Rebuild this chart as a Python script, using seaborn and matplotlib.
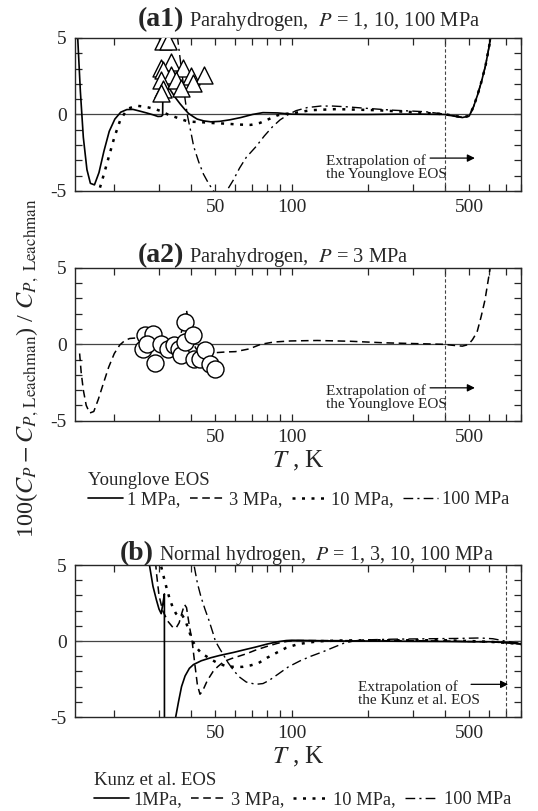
import numpy as np
import pandas as pd
import matplotlib
matplotlib.use("Agg")
import matplotlib.pyplot as plt
from matplotlib.ticker import FixedLocator, FuncFormatter
import seaborn as sns

# --- (a1) Parahydrogen, Younglove EOS, 1 / 10 / 100 MPa ---
a1_T_1mpa = [14.0, 14.3, 14.7, 15.1, 15.6, 16.1, 16.7, 17.4, 18.2, 19.1, 20.1, 21.2, 22.4, 23.7,
             25.2, 26.8, 28.4, 29.7, 30.6, 31.0, 31.1, 32.0, 33.4, 34.8, 36.3, 37.8, 39.2, 41.0,
             42.4, 45.0, 48.0, 52.0, 57.0, 63.0, 70.0, 77.0, 88.0, 100, 120, 150, 200, 260, 330,
             400, 440, 470, 500, 520, 540, 560, 580, 600, 620]
a1_y_1mpa = [9.0, 5.5, 1.5, -1.5, -3.6, -4.5, -4.6, -3.8, -2.4, -1.1, -0.3, 0.15, 0.32, 0.33,
             0.22, 0.1, -0.02, -0.13, -0.12, -0.05, 2.3, 2.0, 1.55, 1.1, 0.7, 0.35, 0.07, -0.15,
             -0.3, -0.42, -0.48, -0.45, -0.35, -0.2, 0.0, 0.12, 0.1, 0.02, 0.0, 0.0, 0.0, 0.02, 0.02,
             0.0, -0.12, -0.2, -0.1, 0.5, 1.3, 2.2, 3.2, 4.5, 5.8]

a1_T_10mpa = [17.0, 17.4, 18.2, 19.0, 20.0, 21.1, 22.0, 22.8, 24.5, 26.0, 27.2, 29.0, 30.5, 32.5,
              34.5, 36.5, 38.9, 41.0, 43.7, 48.9, 55.0, 62.0, 69.0, 75.0, 80.0, 88.0, 96.0, 100,
              119, 150, 215, 300, 400, 440, 470, 500, 520, 540, 560, 580, 600, 620]
a1_y_10mpa = [-6.0, -5.0, -3.9, -2.8, -1.5, -0.37, 0.1, 0.4, 0.57, 0.52, 0.46, 0.35, 0.22, 0.0,
              -0.15, -0.3, -0.45, -0.48, -0.5, -0.56, -0.6, -0.66, -0.68, -0.55, -0.35, -0.05, 0.05,
              0.07, 0.28, 0.35, 0.28, 0.15, 0.02, -0.1, -0.18, -0.1, 0.5, 1.3, 2.2, 3.2, 4.5, 5.8]

a1_T_100mpa = [34.8, 35.5, 36.3, 37.2, 38.0, 38.8, 40.0, 41.1, 43.0, 44.9, 47.0, 49.2, 51.5, 53.5,
               55.4, 58.8, 62.3, 66.2, 72.3, 78.0, 84.0, 90.0, 97.0, 104, 115, 130, 145, 165, 190,
               250, 336, 400, 440, 470, 500, 520, 540, 560, 580, 600, 620]
a1_y_100mpa = [6.5, 5.0, 3.7, 2.3, 1.0, -0.05, -1.1, -2.1, -3.1, -3.9, -4.5, -5.0, -5.3, -5.2,
               -5.0, -4.3, -3.5, -2.8, -2.1, -1.4, -0.8, -0.35, 0.0, 0.25, 0.45, 0.55, 0.55, 0.5,
               0.42, 0.28, 0.18, 0.02, -0.1, -0.18, -0.1, 0.5, 1.3, 2.2, 3.2, 4.5, 5.8]

# experimental points (triangles)
a1_T_exp = [31.2, 32.6, 33.5, 30.6, 31.0, 37.2, 33.5, 40.1, 45.1, 30.6, 35.0, 40.7, 31.2, 36.7, 30.6]
a1_y_exp = [4.77, 4.77, 3.46, 3.05, 2.9, 3.05, 2.6, 2.53, 2.6, 2.27, 2.27, 2.05, 1.66, 1.72, 1.4]

# --- (a2) Parahydrogen, Younglove EOS, 3 MPa ---
a2_T_3mpa = [14.6, 14.8, 15.1, 15.5, 16.0, 16.6, 17.3, 18.0, 19.0, 20.0, 21.0, 22.0, 23.0, 24.5,
             26.0, 28.0, 30.0, 32.0, 34.0, 36.0, 37.5, 38.5, 39.3, 40.5, 42.0, 44.0, 46.0, 50.0,
             55.0, 60.0, 68.0, 75.5, 85.0, 99.0, 126, 170, 230, 300, 396, 440, 470, 496, 515,
             537, 557, 577, 605, 625]
a2_y_3mpa = [-0.6, -1.8, -3.0, -4.0, -4.5, -4.4, -3.6, -2.7, -1.5, -0.6, -0.05, 0.25, 0.38, 0.42,
             0.3, 0.15, 0.0, -0.1, 0.0, 0.4, 1.2, 2.25, 1.2, 0.2, -0.3, -0.5, -0.55, -0.55,
             -0.5, -0.48, -0.3, 0.0, 0.15, 0.22, 0.25, 0.2, 0.1, 0.05, 0.0, -0.08, -0.12, -0.02, 0.3,
             0.8, 1.8, 2.9, 5.0, 6.5]

# experimental points (circles)
a2_T_exp = [26.3, 28.4, 26.0, 27.0, 30.6, 28.8, 32.5, 34.5, 36.0, 36.5, 38.1, 38.1, 40.9, 41.2,
            43.7, 45.6, 47.6, 50.0]
a2_y_exp = [0.6, 0.7, -0.29, 0.0, 0.04, -1.23, -0.29, -0.07, -0.29, -0.73, 1.48, 0.15, 0.6, -0.95,
            -0.95, -0.35, -1.28, -1.6]

# --- (b) Normal hydrogen, Kunz et al. EOS, 1 / 3 / 10 / 100 MPa ---
b_T_1mpa = [26.5, 27.5, 28.4, 29.3, 30.0, 30.6, 31.1, 31.5, 31.52, 34.5, 34.9, 35.8, 36.8, 38.0,
            39.5, 41.0, 44.0, 48.0, 52.0, 59.0, 66.0, 72.0, 80.0, 88.0, 95.0, 100, 120, 150, 200,
            300, 400, 500, 600, 700, 800]
b_y_1mpa = [7.0, 5.0, 3.6, 2.7, 2.1, 1.8, 2.5, 3.1, -8.0, -8.0, -5.0, -4.0, -3.0, -2.3,
            -1.8, -1.55, -1.3, -1.1, -0.95, -0.75, -0.55, -0.4, -0.2, -0.05, 0.03, 0.05, 0.03, 0.0,
            0.0, -0.02, -0.03, -0.05, -0.05, -0.1, -0.2]

b_T_3mpa = [28.8, 29.3, 30.0, 31.0, 32.5, 34.0, 35.0, 36.0, 37.0, 37.8, 38.5, 39.5, 40.5, 41.5,
            42.5, 43.5, 44.5, 46.5, 49.0, 51.0, 54.0, 58.0, 66.0, 72.0, 80.0, 88.0, 96.0, 106,
            130, 200, 300, 400, 500, 600, 700, 800]
b_y_3mpa = [6.0, 4.5, 3.0, 2.0, 1.3, 0.9, 0.85, 1.2, 1.9, 2.4, 2.2, 1.0, 0.0, -1.5,
            -2.9, -3.5, -3.3, -2.6, -2.0, -1.7, -1.35, -1.15, -0.85, -0.6, -0.35, -0.15, -0.02, 0.03,
            0.03, 0.02, 0.02, 0.0, -0.03, -0.05, -0.12, -0.2]

b_T_10mpa = [30.0, 31.0, 32.0, 33.0, 34.0, 35.0, 36.0, 37.0, 38.0, 39.5, 40.7, 42.0, 44.0, 46.0,
             48.0, 51.0, 55.0, 59.0, 64.0, 69.0, 74.0, 80.0, 88.8, 95.0, 106, 127, 150, 200, 300,
             400, 500, 600, 700, 800]
b_y_10mpa = [5.5, 4.5, 3.6, 2.8, 2.2, 1.8, 1.6, 1.7, 1.4, 0.6, 0.0, -0.4, -0.8, -1.0,
             -1.2, -1.45, -1.65, -1.7, -1.7, -1.6, -1.45, -1.1, -0.7, -0.45, -0.2, -0.02, 0.03,
             0.05, 0.05, 0.05, 0.0, -0.05, -0.12, -0.2]

b_T_100mpa = [40.0, 41.2, 42.5, 43.9, 45.5, 47.1, 49.0, 50.0, 52.0, 54.0, 56.0, 58.8, 62.0, 66.2,
              72.2, 77.0, 81.3, 88.0, 97.0, 108, 119, 133, 147, 160, 175, 190, 250, 350, 450,
              550, 620, 700, 800]
b_y_100mpa = [6.2, 5.0, 3.8, 2.9, 2.1, 1.4, 0.5, 0.0, -0.5, -0.95, -1.4, -1.9, -2.35, -2.7,
              -2.85, -2.8, -2.6, -2.2, -1.7, -1.3, -1.0, -0.7, -0.4, -0.15, 0.0, 0.07, 0.12, 0.15,
              0.17, 0.2, 0.15, -0.02, -0.15]

# line styles per pressure
styles = {
    "1": dict(linestyle="-", lw=1.2),
    "3": dict(linestyle=(0, (5, 3)), lw=1.1),
    "10": dict(linestyle=(0, (1.2, 2.6)), lw=1.8),
    "100": dict(linestyle=(0, (7, 3, 1.5, 3)), lw=1.0),
}

sns.set_style("ticks")
plt.rcParams["font.family"] = ["Liberation Serif", "DejaVu Serif"]
plt.rcParams["mathtext.fontset"] = "stix"
plt.rcParams["axes.unicode_minus"] = False

fig = plt.figure(figsize=(5.38, 8.11), dpi=100)
L, W = 0.1394, 0.829
ax1 = fig.add_axes([L, 0.7645, W, 0.1887])
ax2 = fig.add_axes([L, 0.4813, W, 0.1883])
ax3 = fig.add_axes([L, 0.1159, W, 0.1874])


def draw(ax, T, y, p):
    sns.lineplot(x=T, y=y, ax=ax, color="k", sort=False, estimator=None, **styles[p])
    return ax.lines[-1]


def style_axes(ax, vline):
    ax.set_xscale("log")
    ax.set_xlim(14, 800)
    ax.set_ylim(-5, 5)
    ax.axhline(0, color="#444444", lw=0.9, zorder=1)
    ax.axvline(vline, color="#444444", lw=0.8, linestyle=(0, (3, 2)), zorder=1)
    ax.xaxis.set_major_locator(FixedLocator([50, 100, 500]))
    ax.xaxis.set_minor_locator(FixedLocator([20, 30, 40, 60, 70, 80, 90, 200, 300, 400, 600, 700, 800]))
    ax.xaxis.set_major_formatter(FuncFormatter(lambda v, _: f"{v:g}"))
    ax.yaxis.set_major_locator(FixedLocator([-5, 0, 5]))
    ax.yaxis.set_minor_locator(FixedLocator([-4, -3, -2, -1, 1, 2, 3, 4]))
    ax.yaxis.set_major_formatter(FuncFormatter(lambda v, _: f"{v:g}"))
    ax.tick_params(which="both", direction="in", top=True, right=True, length=5, width=0.9,
                   labelsize=14, pad=6)
    for s in ax.spines.values():
        s.set_linewidth(1.0)
    ax.set_xlabel("")
    ax.set_ylabel("")


# (a1)
l1 = draw(ax1, a1_T_1mpa, a1_y_1mpa, "1")
l10 = draw(ax1, a1_T_10mpa, a1_y_10mpa, "10")
l100 = draw(ax1, a1_T_100mpa, a1_y_100mpa, "100")
sns.scatterplot(x=a1_T_exp, y=a1_y_exp, ax=ax1, marker="^", s=150, color="white",
                edgecolor="k", linewidth=1.0, zorder=5)
style_axes(ax1, 400)

# (a2)
l3 = draw(ax2, a2_T_3mpa, a2_y_3mpa, "3")
sns.scatterplot(x=a2_T_exp, y=a2_y_exp, ax=ax2, marker="o", s=150, color="white",
                edgecolor="k", linewidth=1.0, zorder=5)
style_axes(ax2, 400)
ax2.set_xlabel("$T$ , K", fontsize=18, labelpad=2)

# (b)
k1 = draw(ax3, b_T_1mpa, b_y_1mpa, "1")
k3 = draw(ax3, b_T_3mpa, b_y_3mpa, "3")
k10 = draw(ax3, b_T_10mpa, b_y_10mpa, "10")
k100 = draw(ax3, b_T_100mpa, b_y_100mpa, "100")
style_axes(ax3, 700)
ax3.set_xlabel("$T$ , K", fontsize=18, labelpad=2)

# extrapolation notes
for ax, tx, x0, x1, name in [(ax1, 136, 342, 540, "the Younglove EOS"),
                             (ax2, 136, 342, 540, "the Younglove EOS"),
                             (ax3, 182, 496, 730, "the Kunz et al. EOS")]:
    ax.text(tx, -2.6, "Extrapolation of\n" + name, ha="left", va="top", fontsize=11,
            color="#222222", linespacing=1.0)
    ax.annotate("", xy=(x1, -2.85), xytext=(x0, -2.85),
                arrowprops=dict(arrowstyle="-|>", color="k", lw=0.9, mutation_scale=11))

# panel titles
for xs, yb, tag, rest, fs in [(0.342, 0.968, "(a1)", " Parahydrogen,  $P$ = 1, 10, 100 MPa", 14.8),
                              (0.342, 0.677, "(a2)", " Parahydrogen,  $P$ = 3 MPa", 14.8),
                              (0.286, 0.3095, "(b)", " Normal hydrogen,  $P$ = 1, 3, 10, 100 MPa", 14.4)]:
    fig.text(xs, yb, tag, ha="right", va="baseline", fontsize=20, fontweight="bold")
    fig.text(xs, yb, rest, ha="left", va="baseline", fontsize=fs)

# y label
fig.text(0.052, 0.546,
         r"100($C_P - C_{P,\,\mathrm{Leachman}}$) / $C_{P,\ \mathrm{Leachman}}$",
         rotation=90, ha="center", va="center", fontsize=17.5)

# legends
leg_kw = dict(loc="upper left", ncol=4, frameon=False, fontsize=13.2, title_fontsize=13.5,
              handlelength=1.9, handletextpad=0.25, columnspacing=0.5, alignment="left",
              borderpad=0, borderaxespad=0, labelspacing=0.1)
fig.legend([l1, l3, l10, l100], ["1 MPa,", "3 MPa,", "10 MPa,", "100 MPa"],
           title="Younglove EOS", bbox_to_anchor=(0.163, 0.4175), **leg_kw)
fig.legend([k1, k3, k10, k100], ["1MPa,", "3 MPa,", "10 MPa,", "100 MPa"],
           title="Kunz et al. EOS", bbox_to_anchor=(0.175, 0.0475), **leg_kw)

fig.savefig("out.png", dpi=100)
